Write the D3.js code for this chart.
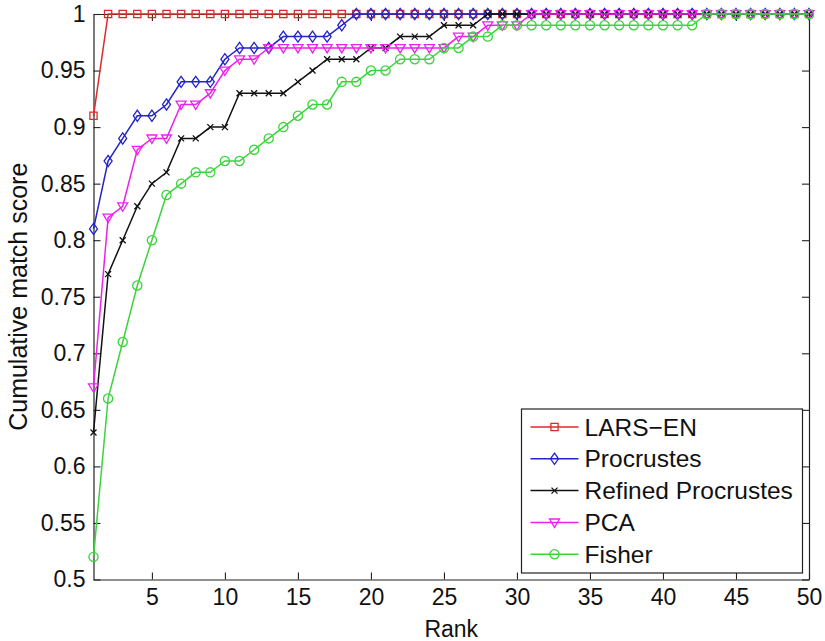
<!DOCTYPE html>
<html>
<head>
<meta charset="utf-8">
<script src="https://cdn.jsdelivr.net/npm/d3@7"></script>
<style>
  body { margin: 0; background: #fff; }
  svg text { font-family: "Liberation Sans", Arial, Helvetica, sans-serif; fill: #111; }
</style>
</head>
<body>
<svg id="chart" width="825" height="641"></svg>
<script>
// Rank axis (categories)
const ranks = [
  1, 2, 3, 4, 5, 6, 7, 8, 9, 10,
  11, 12, 13, 14, 15, 16, 17, 18, 19, 20,
  21, 22, 23, 24, 25, 26, 27, 28, 29, 30,
  31, 32, 33, 34, 35, 36, 37, 38, 39, 40,
  41, 42, 43, 44, 45, 46, 47, 48, 49, 50
];

// Cumulative match score per rank, one list per method
const larsEN = [
  0.91, 1, 1, 1, 1, 1, 1, 1, 1, 1,
  1, 1, 1, 1, 1, 1, 1, 1, 1, 1,
  1, 1, 1, 1, 1, 1, 1, 1, 1, 1,
  1, 1, 1, 1, 1, 1, 1, 1, 1, 1,
  1, 1, 1, 1, 1, 1, 1, 1, 1, 1
];
const procrustes = [
  0.81, 0.87, 0.89, 0.91, 0.91, 0.92, 0.94, 0.94, 0.94, 0.96,
  0.97, 0.97, 0.97, 0.98, 0.98, 0.98, 0.98, 0.99, 1, 1,
  1, 1, 1, 1, 1, 1, 1, 1, 1, 1,
  1, 1, 1, 1, 1, 1, 1, 1, 1, 1,
  1, 1, 1, 1, 1, 1, 1, 1, 1, 1
];
const refinedProcrustes = [
  0.63, 0.77, 0.80, 0.83, 0.85, 0.86, 0.89, 0.89, 0.90, 0.90,
  0.93, 0.93, 0.93, 0.93, 0.94, 0.95, 0.96, 0.96, 0.96, 0.97,
  0.97, 0.98, 0.98, 0.98, 0.99, 0.99, 0.99, 1, 1, 1,
  1, 1, 1, 1, 1, 1, 1, 1, 1, 1,
  1, 1, 1, 1, 1, 1, 1, 1, 1, 1
];
const pca = [
  0.67, 0.82, 0.83, 0.88, 0.89, 0.89, 0.92, 0.92, 0.93, 0.95,
  0.96, 0.96, 0.97, 0.97, 0.97, 0.97, 0.97, 0.97, 0.97, 0.97,
  0.97, 0.97, 0.97, 0.97, 0.97, 0.98, 0.98, 0.99, 0.99, 0.99,
  1, 1, 1, 1, 1, 1, 1, 1, 1, 1,
  1, 1, 1, 1, 1, 1, 1, 1, 1, 1
];
const fisher = [
  0.52, 0.66, 0.71, 0.76, 0.80, 0.84, 0.85, 0.86, 0.86, 0.87,
  0.87, 0.88, 0.89, 0.90, 0.91, 0.92, 0.92, 0.94, 0.94, 0.95,
  0.95, 0.96, 0.96, 0.96, 0.97, 0.97, 0.98, 0.98, 0.99, 0.99,
  0.99, 0.99, 0.99, 0.99, 0.99, 0.99, 0.99, 0.99, 0.99, 0.99,
  0.99, 0.99, 1, 1, 1, 1, 1, 1, 1, 1
];

const seriesNames = ["LARS\u2212EN", "Procrustes", "Refined Procrustes", "PCA", "Fisher"];

// Tick labels
const xTicks = [5, 10, 15, 20, 25, 30, 35, 40, 45, 50];
const yTicks = [0.5, 0.55, 0.6, 0.65, 0.7, 0.75, 0.8, 0.85, 0.9, 0.95, 1];
const yTickLabels = ["0.5", "0.55", "0.6", "0.65", "0.7", "0.75", "0.8", "0.85", "0.9", "0.95", "1"];
const xLabel = "Rank";
const yLabel = "Cumulative match score";

// Marker outlines, centred on the data point
const markerPaths = {
  square:   "M-3.6,-3.6H3.6V3.6H-3.6Z",
  diamond:  "M0,-5.6L4,0L0,5.6L-4,0Z",
  cross:    "M-3,-3L3,3M-3,3L3,-3",
  triangle: "M-5,-3.4L5,-3.4L0,5Z",
  circle:   "M4.6,0A4.6,4.6 0 1,1 -4.6,0A4.6,4.6 0 1,1 4.6,0Z"
};

const styles = [
  { color: "#dc2a2a", marker: "square" },
  { color: "#2424c8", marker: "diamond" },
  { color: "#111111", marker: "cross" },
  { color: "#ec22ec", marker: "triangle" },
  { color: "#3cd43c", marker: "circle" }
];

const seriesValues = [larsEN, procrustes, refinedProcrustes, pca, fisher];
const series = seriesNames.map((name, i) => ({
  name,
  ...styles[i],
  points: ranks.map((r, j) => ({ rank: r, value: seriesValues[i][j] }))
}));

const plot = { left: 93.5, right: 809, top: 14, bottom: 579.5 };

const svg = d3.select("#chart");

const x = d3.scaleLinear().domain([1, 50]).range([plot.left, plot.right]);
const y = d3.scaleLinear().domain([0.5, 1]).range([plot.bottom, plot.top]);

const tickFont = "23px";

// Axes with inward ticks on all four sides
const gBottom = svg.append("g")
  .attr("transform", `translate(0,${plot.bottom})`)
  .call(d3.axisBottom(x).tickValues(xTicks).tickFormat(d3.format("d"))
    .tickSizeInner(-7).tickSizeOuter(0).tickPadding(9));
const gTop = svg.append("g")
  .attr("transform", `translate(0,${plot.top})`)
  .call(d3.axisTop(x).tickValues(xTicks).tickFormat("")
    .tickSizeInner(-7).tickSizeOuter(0));
const gLeft = svg.append("g")
  .attr("transform", `translate(${plot.left},0)`)
  .call(d3.axisLeft(y).tickValues(yTicks).tickFormat((d, i) => yTickLabels[i])
    .tickSizeInner(-7).tickSizeOuter(0).tickPadding(8));
const gRight = svg.append("g")
  .attr("transform", `translate(${plot.right},0)`)
  .call(d3.axisRight(y).tickValues(yTicks).tickFormat("")
    .tickSizeInner(-7).tickSizeOuter(0));

[gBottom, gTop, gLeft, gRight].forEach(g => {
  g.select(".domain").attr("stroke", "#222").attr("stroke-width", 1.2);
  g.selectAll(".tick line").attr("stroke", "#222").attr("stroke-width", 1.1);
  g.selectAll(".tick text").attr("font-size", tickFont).attr("fill", "#111")
    .style("font-family", "'Liberation Sans', Arial, sans-serif");
});

// Axis titles
svg.append("text")
  .attr("x", (plot.left + plot.right) / 2)
  .attr("y", 637)
  .attr("text-anchor", "middle")
  .attr("font-size", "23px")
  .text(xLabel);

svg.append("text")
  .attr("transform", `translate(27,${(plot.top + plot.bottom) / 2}) rotate(-90)`)
  .attr("text-anchor", "middle")
  .attr("font-size", "25px")
  .text(yLabel);

// Series lines and markers
const line = d3.line().x(d => x(d.rank)).y(d => y(d.value));

const gSeries = svg.append("g");
series.forEach(s => {
  const g = gSeries.append("g");
  g.append("path")
    .datum(s.points)
    .attr("d", line)
    .attr("fill", "none")
    .attr("stroke", s.color)
    .attr("stroke-width", 1.5);
  g.selectAll("path.marker")
    .data(s.points)
    .join("path")
    .attr("class", "marker")
    .attr("d", markerPaths[s.marker])
    .attr("transform", d => `translate(${x(d.rank)},${y(d.value)})`)
    .attr("fill", "none")
    .attr("stroke", s.color)
    .attr("stroke-width", 1.3);
});

// Legend
const legend = { left: 521.5, top: 409, width: 281, height: 164, firstRow: 427, rowStep: 31.8 };
const gLegend = svg.append("g");
gLegend.append("rect")
  .attr("x", legend.left).attr("y", legend.top)
  .attr("width", legend.width).attr("height", legend.height)
  .attr("fill", "#fff").attr("stroke", "#222").attr("stroke-width", 1.2);

series.forEach((s, i) => {
  const cy = legend.firstRow + i * legend.rowStep;
  const row = gLegend.append("g");
  row.append("line")
    .attr("x1", legend.left + 9).attr("x2", legend.left + 57)
    .attr("y1", cy).attr("y2", cy)
    .attr("stroke", s.color).attr("stroke-width", 1.5);
  row.append("path")
    .attr("d", markerPaths[s.marker])
    .attr("transform", `translate(${legend.left + 33},${cy})`)
    .attr("fill", "none").attr("stroke", s.color).attr("stroke-width", 1.3);
  row.append("text")
    .attr("x", legend.left + 63)
    .attr("y", cy)
    .attr("dy", "0.35em")
    .attr("font-size", "24.5px")
    .text(s.name);
});
</script>
</body>
</html>
